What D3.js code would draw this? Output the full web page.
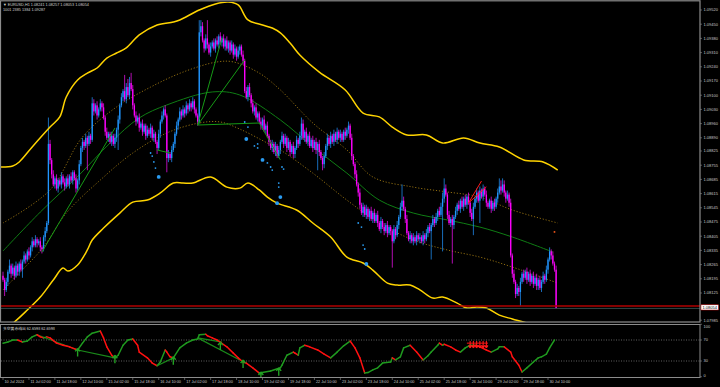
<!DOCTYPE html>
<html><head><meta charset="utf-8">
<script src="https://cdn.jsdelivr.net/npm/d3@7"></script>
<style>body{margin:0;background:#000;overflow:hidden}svg{display:block}text{font-family:"Liberation Sans",Arial,sans-serif}</style>
</head><body><svg id="c" width="720" height="387"></svg>
<script>
// ---------- DATA ----------
const firstOpen = 1.0821;
const closes = [
1.0819,1.0814,1.0818,1.0823,1.0826,1.0822,1.0825,1.0821,1.0826,1.0823,
1.0827,1.0824,1.0828,1.0831,1.0829,1.0833,1.0831,1.0835,1.0838,1.0836,
1.0839,1.0837,1.0838,1.0835,1.0834,1.0840,1.0843,1.0847,1.0886,1.0878,
1.0871,1.0866,1.0869,1.0864,1.0868,1.0866,1.0870,1.0867,1.0865,1.0869,
1.0866,1.0870,1.0868,1.0872,1.0869,1.0864,1.0868,1.0876,1.0884,1.0887,
1.0885,1.0889,1.0886,1.0890,1.0888,1.0906,1.0902,1.0905,1.0900,1.0903,
1.0906,1.0904,1.0899,1.0892,1.0889,1.0891,1.0887,1.0890,1.0886,1.0889,
1.0893,1.0898,1.0905,1.0909,1.0912,1.0908,1.0914,1.0910,1.0916,1.0913,
1.0905,1.0900,1.0897,1.0899,1.0894,1.0896,1.0892,1.0895,1.0890,1.0893,
1.0891,1.0894,1.0889,1.0891,1.0887,1.0884,1.0891,1.0897,1.0900,1.0903,
1.0900,1.0879,1.0881,1.0879,1.0883,1.0886,1.0891,1.0895,1.0898,1.0902,
1.0900,1.0903,1.0901,1.0905,1.0903,1.0906,1.0904,1.0907,1.0903,1.0900,
1.0897,1.0941,1.0944,1.0937,1.0933,1.0938,1.0935,1.0931,1.0934,1.0936,
1.0933,1.0937,1.0935,1.0939,1.0936,1.0938,1.0934,1.0937,1.0933,1.0936,
1.0932,1.0935,1.0930,1.0933,1.0929,1.0932,1.0934,1.0930,1.0927,1.0912,
1.0909,1.0914,1.0910,1.0906,1.0902,1.0904,1.0899,1.0901,1.0897,1.0895,
1.0898,1.0893,1.0895,1.0890,1.0887,1.0884,1.0886,1.0882,1.0885,1.0880,
1.0883,1.0887,1.0890,1.0886,1.0889,1.0884,1.0887,1.0882,1.0885,1.0881,
1.0884,1.0888,1.0886,1.0890,1.0896,1.0889,1.0892,1.0887,1.0890,1.0885,
1.0888,1.0884,1.0887,1.0883,1.0886,1.0882,1.0879,1.0876,1.0880,1.0885,
1.0889,1.0886,1.0890,1.0887,1.0891,1.0888,1.0892,1.0889,1.0891,1.0888,
1.0892,1.0890,1.0893,1.0895,1.0889,1.0880,1.0876,1.0871,1.0866,1.0862,
1.0856,1.0852,1.0855,1.0851,1.0854,1.0850,1.0853,1.0849,1.0852,1.0848,
1.0851,1.0847,1.0844,1.0848,1.0845,1.0843,1.0846,1.0842,1.0845,1.0843,
1.0838,1.0844,1.0841,1.0846,1.0850,1.0855,1.0858,1.0854,1.0849,1.0842,
1.0839,1.0841,1.0838,1.0840,1.0838,1.0841,1.0839,1.0840,1.0838,1.0841,
1.0839,1.0842,1.0845,1.0843,1.0846,1.0849,1.0847,1.0850,1.0853,1.0851,
1.0855,1.0859,1.0864,1.0861,1.0851,1.0847,1.0849,1.0846,1.0850,1.0853,
1.0856,1.0854,1.0858,1.0855,1.0859,1.0856,1.0860,1.0857,1.0852,1.0849,
1.0855,1.0859,1.0862,1.0858,1.0863,1.0860,1.0864,1.0861,1.0857,1.0855,
1.0858,1.0854,1.0857,1.0855,1.0859,1.0862,1.0865,1.0863,1.0866,1.0862,
1.0859,1.0861,1.0857,1.0831,1.0822,1.0818,1.0812,1.0815,1.0813,1.0818,
1.0822,1.0820,1.0823,1.0819,1.0822,1.0818,1.0821,1.0817,1.0820,1.0816,
1.0819,1.0815,1.0818,1.0821,1.0819,1.0824,1.0829,1.0833,1.0831,1.0827,
1.0824,1.0805];
// upper / lower wick length in pips, per bar
const upWick = [
2,1,2,1,3,1,2,1,2,1, 1,2,1,2,1,1,2,1,2,1, 2,1,1,2,1,1,2,1,13,2, 1,2,1,2,1,1,2,1,2,1,
2,1,2,1,1,2,1,2,1,2, 1,2,1,2,1,3,2,1,2,1, 2,1,2,1,2,1,1,2,1,2, 1,2,1,2,1,8,2,4,3,5,
2,1,2,1,2,1,2,1,1,2, 1,2,1,2,1,1,2,1,2,1, 2,1,2,1,2,1,1,2,1,2, 1,2,1,2,1,2,1,2,1,1,
1,6,3,2,1,2,9,1,2,1, 2,1,2,1,2,1,2,1,2,1, 1,2,1,2,1,2,1,1,2,1, 2,1,2,1,2,1,2,1,1,2,
1,2,1,2,1,1,2,1,2,1, 2,1,2,1,2,1,2,1,1,2, 1,2,1,2,3,2,1,2,1,2, 1,2,1,2,1,2,1,1,2,1,
2,1,2,1,2,1,2,1,2,1, 1,2,1,2,1,2,1,1,2,1, 2,1,2,1,2,1,1,2,1,2, 1,2,1,2,1,2,1,2,1,1,
1,2,1,2,1,2,8,2,1,2, 1,2,1,2,1,2,1,2,1,2, 1,2,1,2,1,2,1,2,1,2, 2,3,5,2,1,2,1,2,1,2,
1,2,1,2,1,2,1,2,1,2, 2,1,2,1,2,1,2,1,2,1, 1,2,1,2,1,2,4,3,3,2, 1,2,1,2,1,2,1,2,1,2,
1,2,1,2,1,2,1,2,1,2, 1,2,1,2,1,2,1,2,1,2, 1,2];
const dnWick = [
1,3,1,2,1,2,1,2,1,2, 2,1,4,1,2,1,2,1,2,1, 1,2,1,2,2,1,2,1,1,2, 2,1,2,1,2,1,2,1,2,1,
1,2,1,2,1,2,1,2,1,2, 2,1,13,1,2,1,2,1,2,1, 1,2,1,2,1,2,1,2,1,2, 2,10,2,1,2,1,2,1,2,1,
2,1,2,1,2,1,2,1,2,1, 1,2,1,2,1,3,1,2,1,2, 1,7,2,1,2,1,2,1,2,1, 2,1,2,1,2,1,2,1,2,1,
2,1,2,1,2,1,2,1,2,1, 1,2,1,2,1,2,1,2,1,2, 2,1,2,1,2,1,2,1,2,1, 1,2,1,2,1,2,1,2,1,2,
2,1,2,1,2,1,2,1,2,1, 1,2,1,2,1,2,1,2,1,2, 2,1,2,1,2,1,2,1,2,1, 1,2,1,2,10,2,1,3,2,1,
2,1,2,1,2,1,2,1,2,1, 1,2,1,2,1,2,1,2,1,2, 2,1,2,1,2,1,2,1,2,1, 1,2,1,2,1,2,1,2,1,2,
13,1,2,1,2,1,2,1,2,1, 1,2,1,2,1,2,1,2,1,2, 2,1,2,1,14,1,2,1,2,1, 1,22,2,1,2,1,2,19,2,1,
2,1,2,1,2,1,2,1,2,1, 8,1,2,1,11,1,2,1,2,1, 1,2,1,2,1,2,1,2,1,2, 2,1,2,1,2,1,2,1,2,7,
1,2,1,2,1,2,1,2,1,2, 2,1,2,1,2,1,2,1,2,1, 1,0];

// time axis: one label every 16 H1 bars
const timeLabels = ["10 Jul 2024","11 Jul 02:00","11 Jul 18:00","12 Jul 10:00","15 Jul 02:00","15 Jul 18:00",
 "16 Jul 10:00","17 Jul 02:00","17 Jul 18:00","18 Jul 10:00","19 Jul 02:00","19 Jul 18:00","22 Jul 10:00",
 "23 Jul 02:00","23 Jul 18:00","24 Jul 10:00","25 Jul 02:00","25 Jul 18:00","26 Jul 10:00","29 Jul 02:00",
 "29 Jul 18:00","30 Jul 10:00"];
const priceTicks = [1.09520,1.09450,1.09380,1.09310,1.09240,1.09170,1.09100,1.09030,1.08960,1.08890,
 1.08825,1.08755,1.08685,1.08615,1.08545,1.08475,1.08405,1.08335,1.08265,1.08195,1.08125,1.07985];
const oscTicks = [100,70,30,0];
const oscLevels = [70,30];

// envelope (yellow) upper / lower
const upBandBars = [-2,6,10,18,29,35,39,46,52,58,64,70,76,84,95,105,109,121,131,139,145,151,160,166,171,177,183,195,211,222,232,240,249,261,271,284,294,306,321,333,342];
const upBandVals = [1.08746,1.08751,1.08771,1.08845,1.08943,1.08993,1.09091,1.09175,1.09209,1.09234,1.09283,1.09308,1.09333,1.09397,1.09446,1.09461,1.09471,1.0952,1.0955,1.09559,1.09545,1.09471,1.09446,1.09431,1.09407,1.09357,1.09298,1.09214,1.09126,1.09012,1.08993,1.08943,1.08904,1.08904,1.08864,1.08889,1.08864,1.08845,1.08781,1.08771,1.08731];
const loBandBars = [0,7,15,23,31,37,40,46,52,55,62,72,80,89,97,105,111,117,128,138,146,151,158,163,169,181,191,202,212,222,228,237,243,251,257,265,271,280,286,292,298,306,314,323,331,342];
const loBandVals = [1.07942,1.07982,1.08041,1.08105,1.08189,1.08248,1.08233,1.08263,1.08337,1.08386,1.08445,1.08519,1.08573,1.08583,1.08618,1.08667,1.08667,1.08667,1.08697,1.08647,1.08642,1.08667,1.08633,1.08598,1.08568,1.08534,1.0847,1.08401,1.08302,1.08273,1.08238,1.08174,1.08164,1.08164,1.0814,1.081,1.08105,1.08075,1.08051,1.08056,1.08051,1.08016,1.07997,1.07977,1.07952,1.07918];
// green moving average and dotted channel
const maBars = [0,23,47,66,84,101,129,146,171,191,212,232,253,274,294,314,339];
const maVals = [1.08332,1.08524,1.08707,1.08864,1.08988,1.09052,1.09116,1.09101,1.08978,1.08845,1.08716,1.08583,1.08519,1.08485,1.0845,1.08401,1.08327];
const chUpBars = [0,29,49,70,91,111,132,142,158,171,191,212,228,253,274,294,314,342];
const chUpVals = [1.0847,1.08633,1.08894,1.09042,1.0914,1.09214,1.09264,1.09264,1.09209,1.09126,1.08963,1.0883,1.08697,1.08647,1.08623,1.08598,1.08534,1.0847];
const chLoBars = [0,10,25,39,60,80,101,121,134,146,163,171,191,212,232,253,274,294,314,342];
const chLoVals = [1.0814,1.08223,1.08352,1.08519,1.08682,1.08815,1.08914,1.08963,1.08968,1.08933,1.08864,1.0883,1.08716,1.08583,1.0847,1.08386,1.08337,1.08302,1.08253,1.08174];

// trend lines [bar1, price1, bar2, price2]
const greenLines = [[24,1.08327,69,1.08938],[95,1.0883,103,1.08815],[120,1.08953,135,1.09382],[120,1.08953,149,1.09274],[120,1.08953,158,1.08963],[158,1.08963,171,1.08781]];
const redLines = [[287,1.08569,295,1.08677],[287,1.08569,298,1.08648]];
// signal dots
const dotBars = [91,92,93,94,96,149,151,150,155,157,157,160,163,165,166,170,170,169,172,173,171,219,221,222,223,224];
const dotVals = [1.08815,1.0880,1.08771,1.08741,1.08697,1.08968,1.08943,1.08884,1.0885,1.0884,1.0886,1.08781,1.08766,1.08746,1.08731,1.08667,1.08647,1.08568,1.08746,1.08736,1.08598,1.0847,1.0845,1.08361,1.08342,1.08268];
const dotBig = [0,0,0,0,1,0,0,1,0,0,0,1,0,0,0,0,0,1,0,0,1,0,0,0,0,1];
const markBar = 340, markVal = 1.08426;
const levelRed = 1.08061, bidLine = 1.08049, lastPrice = "1.08054";

// oscillator
const oscBars = [0,3,6,9,12,15,18,21,23,25,27,29,33,37,41,46,49,52,55,60,62,64,67,69,71,74,77,80,83,84,89,92,95,97,100,101,103,105,109,113,117,120,121,125,126,129,132,138,142,145,148,150,154,158,165,171,172,175,179,180,182,183,186,189,194,198,202,206,210,214,217,220,223,225,228,231,234,239,240,242,245,247,251,255,259,262,264,268,269,271,272,276,279,282,285,288,291,294,298,301,305,306,309,313,314,318,320,323,327,330,332,335,337,340];
const oscVals = [64,66,70,70,66,68,76,80,76,74,76,74,64,60,57,51,64,76,83,87,74,57,41,36,41,60,70,72,60,47,36,26,21,28,51,47,38,36,55,64,70,72,80,81,78,74,70,57,45,36,28,26,17,7,11,17,22,41,47,45,41,55,60,57,51,43,36,47,59,68,55,36,7,8,13,17,26,28,36,32,38,55,60,47,32,40,47,60,64,60,62,57,51,47,55,60,60,57,51,47,53,57,57,47,38,22,9,17,28,36,38,43,55,70];
const oscLines = [[21,80,46,51],[46,51,69,36],[95,21,105,36],[120,74,146,32],[120,74,135,66]];
const upArrowBars = [46,69,105,134,148,159,170];
const upArrowVals = [54,41,38,66,32,9,17];
const dnArrowBars = [288,290,292,294,296,298];
const dnArrowVals = [55,55,55,55,55,55];
const oscRedLine = [286,64,299,64];

const headerLine1 = "▼ EURUSD,H1  1.08241 1.08257 1.08053 1.08054";
const headerLine2 = "1001 2385 1384 1.09287";
const oscTitle = "多空黄赤线出 62.6598 62.6598";

// ---------- DRAW ----------
const svg = d3.select('#c');
svg.append('rect').attr('width',720).attr('height',387).attr('fill','#000');
const PL=1, PR=700, MT=2, MB=322, OT=324.5, OB=377.5;
const x = d3.scaleLinear().domain([0,336]).range([3,548]);
const y = d3.scaleLinear().domain([1.07985,1.0952]).range([321.4,10]);
const yo = d3.scaleLinear().domain([0,100]).range([376.75,324.25]);

const defs = svg.append('defs');
defs.append('clipPath').attr('id','cm').append('rect').attr('x',PL).attr('y',MT).attr('width',PR-PL).attr('height',MB-MT);
defs.append('clipPath').attr('id','co').append('rect').attr('x',PL).attr('y',OT).attr('width',PR-PL).attr('height',OB-OT);

const gm = svg.append('g').attr('clip-path','url(#cm)');
const go = svg.append('g').attr('clip-path','url(#co)');

const lineP = (bars, vals, crv) => d3.line().x((d,i)=>x(bars[i])).y(d=>y(d)).curve(crv||d3.curveCatmullRom)(vals);
[[chUpBars,chUpVals],[chLoBars,chLoVals]].forEach(([b,v])=>{
  gm.append('path').attr('d',lineP(b,v)).attr('fill','none').attr('stroke','#8f6c10').attr('stroke-width',1).attr('stroke-dasharray','1.2,1.8');
});
gm.append('path').attr('d',lineP(maBars,maVals)).attr('fill','none').attr('stroke','#0f7d14').attr('stroke-width',1);

// candles
const candles = closes.map((c,i)=>{
  const o = i===0 ? firstOpen : closes[i-1];
  return {i,o,c,h:Math.max(o,c)+upWick[i]*1e-4,l:Math.min(o,c)-dnWick[i]*1e-4};
});
const cg = gm.append('g');
cg.selectAll('line').data(candles).join('line')
  .attr('x1',d=>x(d.i)).attr('x2',d=>x(d.i)).attr('y1',d=>y(d.h)).attr('y2',d=>y(d.l))
  .attr('stroke',d=>d.c>=d.o?'#1e88e8':'#e010e0').attr('stroke-width',0.8);
cg.selectAll('rect').data(candles).join('rect')
  .attr('x',d=>x(d.i)-0.65).attr('width',1.3)
  .attr('y',d=>y(Math.max(d.o,d.c))).attr('height',d=>Math.max(0.8,Math.abs(y(d.o)-y(d.c))))
  .attr('fill',d=>d.c>=d.o?'#2196ff':'#ff00ff');

// yellow envelope
[[upBandBars,upBandVals],[loBandBars,loBandVals]].forEach(([b,v])=>{
  gm.append('path').attr('d',lineP(b,v)).attr('fill','none').attr('stroke','#ffd400').attr('stroke-width',1.5);
});

// trend lines
gm.selectAll('line.gl').data(greenLines).join('line').attr('class','gl')
  .attr('x1',d=>x(d[0])).attr('y1',d=>y(d[1])).attr('x2',d=>x(d[2])).attr('y2',d=>y(d[3]))
  .attr('stroke','#169a16').attr('stroke-width',1);
gm.selectAll('line.rl').data(redLines).join('line').attr('class','rl')
  .attr('x1',d=>x(d[0])).attr('y1',d=>y(d[1])).attr('x2',d=>x(d[2])).attr('y2',d=>y(d[3]))
  .attr('stroke','#ff1a1a').attr('stroke-width',1);

// dots
gm.selectAll('circle.dt').data(dotVals).join('circle').attr('class','dt')
  .attr('cx',(d,i)=>x(dotBars[i])).attr('cy',d=>y(d)).attr('r',(d,i)=>dotBig[i]?1.9:0.9).attr('fill','#2a9bf0');
gm.append('rect').attr('x',x(markBar)-0.8).attr('y',y(markVal)-0.8).attr('width',1.6).attr('height',1.6).attr('fill','#ff5a1a');

// level lines
gm.append('line').attr('x1',PL).attr('x2',PR).attr('y1',y(levelRed)).attr('y2',y(levelRed)).attr('stroke','#b00000').attr('stroke-width',1.3);
gm.append('line').attr('x1',PL).attr('x2',PR).attr('y1',y(bidLine)).attr('y2',y(bidLine)).attr('stroke','#3d5a5a').attr('stroke-width',0.8);

// ---------- oscillator ----------
oscLevels.forEach(v=>{
  go.append('line').attr('x1',PL).attr('x2',PR).attr('y1',yo(v)).attr('y2',yo(v))
    .attr('stroke','#8a8a8a').attr('stroke-width',0.7).attr('stroke-dasharray','1,1.5');
});
go.selectAll('line.ol').data(oscLines).join('line').attr('class','ol')
  .attr('x1',d=>x(d[0])).attr('y1',d=>yo(d[1])).attr('x2',d=>x(d[2])).attr('y2',d=>yo(d[3]))
  .attr('stroke','#1a8a1a').attr('stroke-width',1.2);
for(let k=0;k<oscVals.length-1;k++){
  go.append('line').attr('x1',x(oscBars[k])).attr('y1',yo(oscVals[k])).attr('x2',x(oscBars[k+1])).attr('y2',yo(oscVals[k+1]))
    .attr('stroke',oscVals[k+1]>=oscVals[k]?'#1f9a1f':'#ff1010').attr('stroke-width',1.5).attr('stroke-linecap','round');
}
go.append('line').attr('x1',x(oscRedLine[0])).attr('y1',yo(oscRedLine[1])).attr('x2',x(oscRedLine[2])).attr('y2',yo(oscRedLine[3]))
  .attr('stroke','#ff1010').attr('stroke-width',1);
upArrowBars.forEach((b,i)=>{
  const ax=x(b), ay=yo(upArrowVals[i]);
  go.append('path').attr('d',`M${ax},${ay}L${ax-2.4},${ay+3}M${ax},${ay}L${ax+2.4},${ay+3}M${ax},${ay}L${ax},${ay+8}`)
    .attr('stroke','#22a022').attr('stroke-width',1.4).attr('fill','none');
});
dnArrowBars.forEach((b,i)=>{
  const ax=x(b), ay=yo(dnArrowVals[i]);
  go.append('path').attr('d',`M${ax},${ay}L${ax-1.6},${ay-2.5}M${ax},${ay}L${ax+1.6},${ay-2.5}M${ax},${ay}L${ax},${ay-7}`)
    .attr('stroke','#ff1a1a').attr('stroke-width',1.1).attr('fill','none');
});

// ---------- frames ----------
const fr = svg.append('g').attr('stroke','#8c8c8c').attr('fill','none');
fr.append('rect').attr('x',0.5).attr('y',0.8).attr('width',PR-0.5).attr('height',MB-0.8).attr('stroke-width',1.2);
fr.append('rect').attr('x',0.5).attr('y',OT).attr('width',PR-0.5).attr('height',OB-OT).attr('stroke-width',1);

// price axis
const ax = svg.append('g');
priceTicks.forEach(p=>{
  const ty = Math.min(y(p), 320.2);
  ax.append('line').attr('x1',PR).attr('x2',PR+2).attr('y1',ty).attr('y2',ty).attr('stroke','#8c8c8c').attr('stroke-width',0.6);
  ax.append('text').attr('x',PR+3.5).attr('y',ty+1.4).text(p.toFixed(5)).attr('font-size',4).attr('fill','#c8c8c8');
});
// last price box
ax.append('rect').attr('x',PR+1).attr('y',y(1.08054)-2.6).attr('width',17.5).attr('height',5.2).attr('fill','#fff').attr('stroke','#c00000').attr('stroke-width',0.5);
ax.append('text').attr('x',PR+2.5).attr('y',y(1.08054)+1.4).text(lastPrice).attr('font-size',4).attr('fill','#000');
oscTicks.forEach(v=>{
  const ty = v===100 ? yo(v)+2.5 : (v===0 ? yo(v)-1.2 : yo(v));
  ax.append('line').attr('x1',PR).attr('x2',PR+2).attr('y1',yo(v)).attr('y2',yo(v)).attr('stroke','#8c8c8c').attr('stroke-width',0.6);
  ax.append('text').attr('x',PR+3.5).attr('y',ty+1.4).text(v).attr('font-size',4).attr('fill','#c8c8c8');
});
// time axis
timeLabels.forEach((t,k)=>{
  const tx = x(k*16);
  ax.append('line').attr('x1',tx).attr('x2',tx).attr('y1',OB).attr('y2',OB+2.5).attr('stroke','#8c8c8c').attr('stroke-width',0.6);
  ax.append('text').attr('x',tx+1.5).attr('y',382.5).text(t).attr('font-size',3.8).attr('fill','#c8c8c8');
});

// titles
svg.append('text').attr('x',3).attr('y',6).text(headerLine1).attr('font-size',3.8).attr('fill','#d0d0d0');
svg.append('text').attr('x',3).attr('y',11).text(headerLine2).attr('font-size',3.8).attr('fill','#d0d0d0');
svg.append('text').attr('x',3).attr('y',329.5).text(oscTitle).attr('font-size',3.8).attr('fill','#d0d0d0')
  .style('font-family','"Noto Sans CJK SC","Liberation Sans",sans-serif');
</script></body></html>
